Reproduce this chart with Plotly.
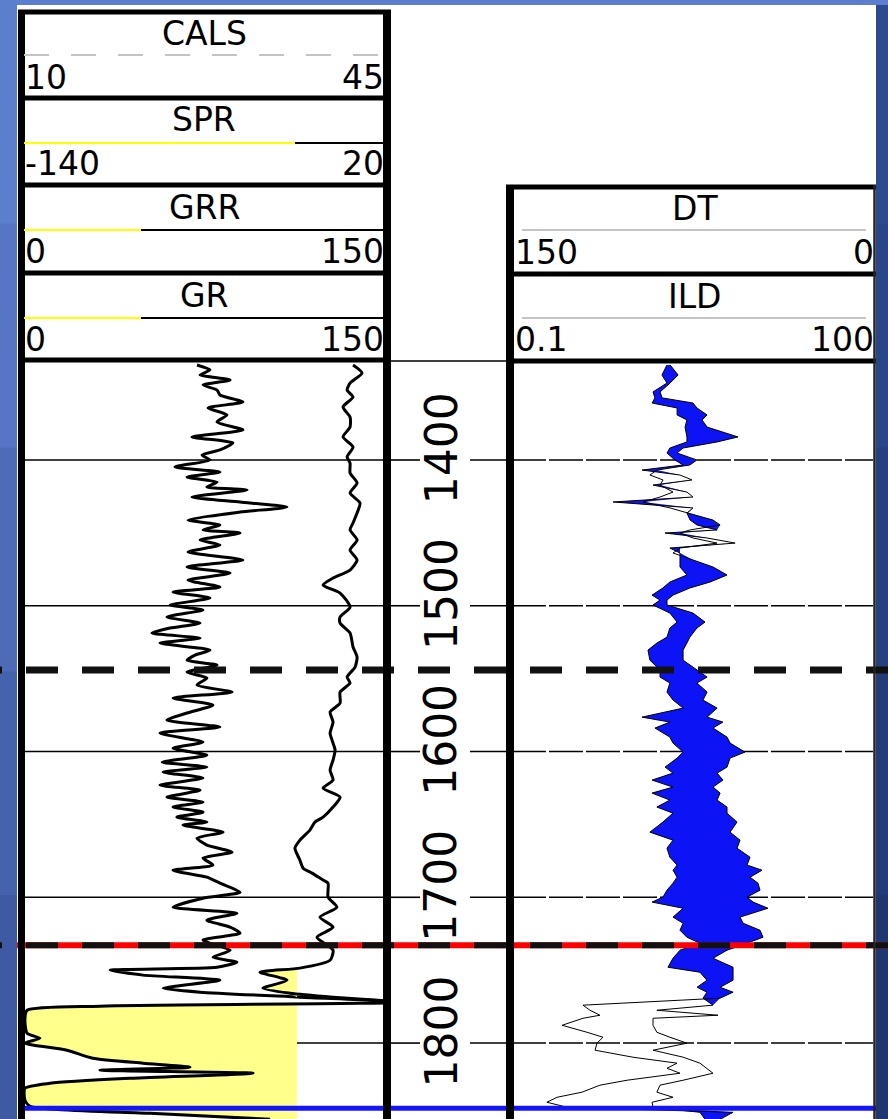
import math
import plotly.graph_objects as go

W, H = 888, 1119

# ---------------- data ----------------
GR_DEPTH = [1334.8, 1338.2, 1341.7, 1345.1, 1348.5, 1352.0, 1355.4, 1360.2, 1364.3, 1369.1,
            1373.9, 1379.4, 1384.2, 1388.3, 1393.1, 1396.6, 1400.0, 1404.8, 1408.2, 1411.7,
            1415.1, 1418.5, 1420.6, 1425.4, 1428.8, 1432.3, 1435.7, 1441.2, 1444.6, 1448.0,
            1450.1, 1454.9, 1458.3, 1463.1, 1468.6, 1473.4, 1477.6, 1482.4, 1487.2, 1490.6,
            1494.7, 1499.5, 1502.9, 1507.7, 1511.9, 1515.3, 1518.7, 1522.2, 1525.6, 1530.4,
            1533.8, 1537.3, 1540.7, 1545.5, 1549.6, 1554.4, 1559.2, 1563.3, 1568.1, 1573.6,
            1578.4, 1583.2, 1587.4, 1593.5, 1597.7, 1602.5, 1607.3, 1610.7, 1614.1, 1618.2,
            1623.0, 1626.5, 1631.3, 1634.7, 1638.1, 1641.6, 1645.0, 1648.4, 1650.5, 1655.3,
            1659.4, 1664.2, 1669.0, 1673.1, 1677.9, 1681.4, 1686.2, 1690.3, 1696.5, 1700.6,
            1706.8, 1710.9, 1715.7, 1720.5, 1724.6, 1729.4, 1736.3, 1741.1, 1744.5, 1748.0,
            1750.0, 1753.4, 1756.9, 1762.4, 1765.1, 1768.5, 1772.0, 1774.7, 1777.5, 1784.3,
            1793.3, 1796.7, 1800.1, 1804.9, 1810.4, 1813.8, 1816.6, 1818.6, 1820.7, 1824.1,
            1827.6, 1831.0, 1839.2, 1843.4, 1848.2, 1852.3]
GR = [72.3, 77.7, 73.6, 86.0, 74.8, 80.6, 81.8, 91.3, 76.9, 84.7,
      80.6, 91.3, 70.2, 87.2, 81.8, 74.4, 77.7, 63.2, 81.8, 68.2,
      80.6, 76.4, 93.0, 70.2, 90.1, 109.5, 90.1, 68.6, 81.8, 74.8,
      90.1, 73.6, 81.8, 68.6, 91.3, 68.2, 86.0, 68.6, 81.8, 62.4,
      77.7, 61.2, 74.8, 59.9, 73.6, 61.2, 53.7, 73.6, 57.0, 77.7,
      71.5, 68.2, 80.6, 68.2, 76.4, 72.3, 86.8, 62.4, 78.9, 68.2,
      59.9, 81.8, 57.0, 74.8, 62.4, 76.4, 57.9, 76.4, 58.3, 74.8,
      57.0, 73.6, 59.9, 74.8, 62.4, 74.8, 64.0, 76.4, 66.5, 83.1,
      72.3, 76.4, 86.8, 74.8, 78.9, 62.4, 76.4, 81.8, 90.1, 74.8,
      62.4, 88.8, 76.4, 86.0, 90.1, 74.8, 86.0, 78.9, 88.8, 80.6,
      36.4, 50.0, 81.8, 58.3, 73.6, 114.9, 159.1, 32.2, 2.1, 1.2,
      2.1, 7.4, 1.2, 18.6, 29.3, 50.0, 69.4, 32.2, 95.5, 45.9,
      11.6, 1.2, 1.2, 3.3, 52.9, 102.5]

SPR_DEPTH = [1334.8, 1340.3, 1347.2, 1352.0, 1356.8, 1363.6, 1370.5, 1377.4, 1384.2, 1391.1,
             1397.9, 1402.1, 1408.9, 1415.8, 1422.6, 1429.5, 1436.4, 1443.2, 1448.0, 1454.9,
             1461.8, 1468.6, 1475.5, 1481.0, 1485.8, 1491.3, 1500.9, 1507.7, 1511.9, 1518.7,
             1528.3, 1535.2, 1542.1, 1548.9, 1553.0, 1559.2, 1566.8, 1572.9, 1579.8, 1587.4,
             1594.2, 1599.0, 1605.9, 1612.8, 1619.6, 1625.1, 1631.3, 1638.1, 1645.0, 1648.4,
             1653.9, 1660.8, 1666.3, 1674.5, 1680.0, 1683.4, 1688.2, 1690.3, 1699.9, 1706.8,
             1713.6, 1720.5, 1727.4, 1736.3, 1743.2, 1748.6, 1751.4, 1756.9, 1762.4, 1765.8,
             1768.5, 1772.0]
SPR = [5.9, 9.9, 4.6, 3.3, 5.9, 1.5, 4.6, 4.6, 1.5, 5.9,
       3.3, 4.6, 4.6, 7.7, 4.6, 9.0, 7.7, 5.9, 4.6, 7.7,
       4.6, 7.7, 4.6, -2.9, -7.3, 0.2, 4.6, 0.2, 0.2, 4.6,
       5.9, 7.7, 6.8, 3.3, 4.6, 0.2, 0.2, -4.2, -2.9, -4.2,
       -2.9, -2.0, -2.9, -4.2, -2.9, -7.3, 0.2, -2.9, -7.3, -10.9,
       -13.1, -17.5, -19.7, -17.5, -16.1, -12.2, -7.3, -5.1, -5.1, -1.2,
       -8.7, -2.9, -10.0, -2.9, -4.2, -17.5, -35.1, -23.2, -33.8, -21.9,
       -2.9, 29.7]

RT_DEPTH = [1334.8, 1341.7, 1347.2, 1353.3, 1357.4, 1360.9, 1364.3, 1369.1, 1372.5, 1377.4,
            1384.2, 1387.6, 1391.8, 1395.2, 1400.0, 1403.4, 1406.9, 1410.3, 1413.7, 1417.2,
            1422.0, 1425.4, 1428.8, 1432.9, 1436.4, 1441.2, 1444.6, 1448.0, 1450.1, 1453.5,
            1457.0, 1460.4, 1463.8, 1468.6, 1473.4, 1478.9, 1483.7, 1487.8, 1492.7, 1496.1,
            1499.5, 1505.0, 1511.2, 1515.3, 1521.5, 1525.6, 1530.4, 1537.3, 1544.1, 1548.9,
            1553.0, 1559.2, 1564.7, 1570.2, 1576.4, 1579.8, 1583.9, 1590.1, 1594.2, 1600.4,
            1604.5, 1610.7, 1614.8, 1619.6, 1624.4, 1628.5, 1633.3, 1638.1, 1642.3, 1648.4,
            1655.3, 1660.8, 1666.3, 1672.5, 1677.9, 1681.4, 1686.2, 1690.3, 1695.1, 1699.9,
            1703.3, 1707.5, 1713.6, 1717.8, 1722.6, 1727.4, 1731.5, 1736.3, 1741.8, 1748.0,
            1751.4, 1756.9, 1761.7, 1765.1, 1769.2, 1774.0, 1777.5, 1780.9, 1783.0, 1787.8,
            1792.6, 1796.0, 1800.1, 1804.9, 1809.7, 1813.8, 1817.3, 1820.7, 1825.5, 1828.9,
            1833.7, 1837.2, 1840.6, 1844.0, 1847.5, 1852.3]
ILD = [2.06, 2.40, 2.06, 1.70, 1.77, 3.19, 3.44, 4.18, 3.79, 4.18,
       7.55, 5.06, 2.64, 2.35, 3.44, 3.01, 1.60, 1.40, 1.80, 1.70,
       2.18, 1.70, 1.23, 2.06, 2.90, 4.68, 5.36, 3.01, 2.49, 3.19,
       5.06, 2.49, 2.18, 3.19, 4.68, 6.12, 4.43, 3.01, 2.18, 1.94,
       1.94, 3.19, 4.02, 3.44, 3.01, 2.84, 2.64, 2.64, 3.44, 4.18,
       3.44, 4.18, 3.86, 5.06, 4.18, 5.66, 4.68, 6.12, 6.49, 8.63,
       6.49, 6.12, 5.06, 5.66, 4.68, 5.36, 5.06, 6.12, 6.12, 7.41,
       6.49, 7.85, 7.41, 9.51, 8.97, 11.97, 9.51, 11.07, 11.51, 8.97,
       10.07, 13.40, 7.85, 8.32, 11.51, 12.19, 8.97, 6.12, 4.68, 6.87,
       6.87, 6.87, 5.36, 6.87, 5.36, 0.389, 0.445, 0.538, 0.389, 0.261,
       0.420, 0.570, 0.508, 0.490, 1.01, 2.35, 1.94, 2.49, 0.904, 0.538,
       0.382, 0.237, 0.195, 0.286, 6.87, 5.36]
DT = [85.6, 87.7, 85.6, 91.4, 90.6, 91.8, 81.4, 81.4, 77.3, 78.1,
      77.3, 77.3, 84.4, 85.6, 82.3, 78.9, 96.0, 80.2, 75.2, 91.4,
      77.3, 74.8, 108.0, 74.8, 77.3, 76.0, 73.1, 64.8, 86.4, 69.0,
      57.3, 84.4, 80.2, 80.2, 80.2, 77.3, 84.4, 87.3, 91.8, 88.5,
      91.4, 84.4, 81.4, 84.4, 85.6, 89.8, 93.5, 92.7, 88.5, 88.5,
      84.4, 85.6, 83.1, 78.9, 96.0, 84.4, 90.6, 84.4, 83.1, 78.9,
      81.4, 86.4, 83.1, 91.8, 83.1, 91.8, 84.4, 89.8, 83.1, 87.3,
      92.7, 83.1, 85.6, 84.4, 81.4, 83.1, 81.4, 83.1, 85.6, 87.3,
      91.8, 78.9, 83.1, 78.9, 80.2, 77.3, 71.9, 80.2, 83.1, 85.2,
      71.9, 69.0, 73.1, 69.0, 70.6, 66.5, 89.8, 64.4, 91.4, 91.4,
      89.8, 84.4, 77.3, 91.4, 78.9, 71.9, 69.0, 66.5, 78.9, 88.5,
      89.8, 83.1, 91.8, 91.4, 71.9, 69.8]

DEPTH_TICKS = [1400, 1500, 1600, 1700, 1800]
DEPTH_LABELS = ["1400", "1500", "1600", "1700", "1800"]

TOP_BLACK_DEPTH = 1544.1
TOP_RED_DEPTH = 1732.9
BASE_BLUE_DEPTH = 1844.7

GR_RANGE = [0, 150]
SPR_RANGE = [-140, 20]
ILD_RANGE = [0.1, 100]
DT_RANGE = [150, 0]
GR_CUTOFF = 113.6
SPR_CUTOFF = -18.8
GR_FILL_FROM = 1772.0
SPR_FILL_FROM, SPR_FILL_TO = 1748.0, 1772.0

LEFT_HEADERS = [("CALS", "10", "45"), ("SPR", "-140", "20"),
                ("GRR", "0", "150"), ("GR", "0", "150")]
RIGHT_HEADERS = [("DT", "150", "0"), ("ILD", "0.1", "100")]

# ---------------- geometry / style ----------------
LT_X0, LT_X1 = 22, 385
RT_X0, RT_X1 = 512, 873
BODY_TOP = 360
Y_RANGE = [1852.1, 1331.4]
YELLOW = "#ffff8c"
BLUE_FILL = "#0c14f5"
FONT = "DejaVu Sans"
HEADER_SIZE = 33


def px(x):
    return x / W


def py(y):
    return 1 - y / H


fig = go.Figure()

# --- yellow shale/sand shading (left track) ---
spr_sel = [i for i, d in enumerate(SPR_DEPTH) if SPR_FILL_FROM <= d <= SPR_FILL_TO]
sd = [SPR_DEPTH[i] for i in spr_sel]
sv = [SPR[i] for i in spr_sel]
fig.add_trace(go.Scatter(x=[SPR_CUTOFF] * len(sd), y=sd, xaxis="x2", yaxis="y",
                         mode="lines", line=dict(width=0, color=YELLOW), hoverinfo="skip"))
fig.add_trace(go.Scatter(x=[min(v, SPR_CUTOFF) for v in sv], y=sd, xaxis="x2", yaxis="y",
                         mode="lines", line=dict(width=0, color=YELLOW), fill="tonextx",
                         fillcolor=YELLOW, hoverinfo="skip"))

gr_sel = [i for i, d in enumerate(GR_DEPTH) if d >= GR_FILL_FROM]
gd = [GR_DEPTH[i] for i in gr_sel]
gv = [GR[i] for i in gr_sel]
fig.add_trace(go.Scatter(x=[GR_CUTOFF] * len(gd), y=gd, xaxis="x", yaxis="y",
                         mode="lines", line=dict(width=0, color=YELLOW), hoverinfo="skip"))
fig.add_trace(go.Scatter(x=[min(v, GR_CUTOFF) for v in gv], y=gd, xaxis="x", yaxis="y",
                         mode="lines", line=dict(width=0, color=YELLOW), fill="tonextx",
                         fillcolor=YELLOW, hoverinfo="skip"))

# --- curves left track ---
fig.add_trace(go.Scatter(x=GR, y=GR_DEPTH, xaxis="x", yaxis="y", mode="lines", name="GR",
                         line=dict(color="black", width=3, shape="spline", smoothing=0.6)))
fig.add_trace(go.Scatter(x=SPR, y=SPR_DEPTH, xaxis="x2", yaxis="y", mode="lines", name="SPR",
                         line=dict(color="black", width=3, shape="spline", smoothing=0.6)))

# --- crossover shading (right track): DT placed on the ILD log scale ---
lg0, lg1 = math.log10(ILD_RANGE[0]), math.log10(ILD_RANGE[1])


def dt_on_ild_scale(v):
    frac = (DT_RANGE[0] - v) / (DT_RANGE[0] - DT_RANGE[1])
    return 10 ** (lg0 + frac * (lg1 - lg0))


dt_equiv = [dt_on_ild_scale(v) for v in DT]
fig.add_trace(go.Scatter(x=dt_equiv, y=RT_DEPTH, xaxis="x3", yaxis="y", mode="lines",
                         line=dict(width=0, color=BLUE_FILL), hoverinfo="skip"))
fig.add_trace(go.Scatter(x=[max(a, b) for a, b in zip(ILD, dt_equiv)], y=RT_DEPTH,
                         xaxis="x3", yaxis="y", mode="lines",
                         line=dict(width=0, color=BLUE_FILL), fill="tonextx",
                         fillcolor=BLUE_FILL, hoverinfo="skip"))
fig.add_trace(go.Scatter(x=ILD, y=RT_DEPTH, xaxis="x3", yaxis="y", mode="lines", name="ILD",
                         line=dict(color="black", width=1)))
fig.add_trace(go.Scatter(x=DT, y=RT_DEPTH, xaxis="x4", yaxis="y", mode="lines", name="DT",
                         line=dict(color="black", width=1)))

# ---------------- shapes ----------------
shapes = []


def pline(x0, y0, x1, y1, color="black", width=1, dash=None, layer="above"):
    ln = dict(color=color, width=width)
    if dash:
        ln["dash"] = dash
    shapes.append(dict(type="line", xref="paper", yref="paper", x0=px(x0), x1=px(x1),
                       y0=py(y0), y1=py(y1), line=ln, layer=layer))


def dline(depth, x0, x1, color="black", width=1, dash=None, layer="above"):
    ln = dict(color=color, width=width)
    if dash:
        ln["dash"] = dash
    shapes.append(dict(type="line", xref="paper", yref="y", x0=px(x0), x1=px(x1),
                       y0=depth, y1=depth, line=ln, layer=layer))


def prect(x0, y0, x1, y1, color, layer="below"):
    shapes.append(dict(type="rect", xref="paper", yref="paper", x0=px(x0), x1=px(x1),
                       y0=py(y1), y1=py(y0), fillcolor=color, line=dict(width=0),
                       layer=layer))


# background strips (page frame)
left_bands = ["#5b7fcc", "#5476c4", "#4c6cb8", "#4463ad", "#3d5aa2"]
right_bands = ["#2d4a8f", "#2a4588", "#264080", "#233b78", "#203670"]
n = len(left_bands)
for i in range(n):
    prect(0, H * i / n, 17, H * (i + 1) / n + 1, left_bands[i])
    prect(876, H * i / n, W, H * (i + 1) / n + 1, right_bands[i])
prect(0, 0, W, 5, "#5b7fcc")
prect(17, 5, 876, H, "white")

# depth grid lines
for d in DEPTH_TICKS:
    dline(d, LT_X0, LT_X1, width=1.6, layer="below")
    dline(d, 390, 420, width=1.6, layer="below")
    dline(d, 470, 508, width=1.6, layer="below")
    dline(d, RT_X0, RT_X1, width=1.6, dash="34px,3px", layer="below")
pline(390, 361, 507, 361, width=1.5)

# marker lines across the log
dline(TOP_BLACK_DEPTH, -30, W + 60, color="#111111", width=7, dash="32px,24px")
dline(TOP_RED_DEPTH, 17, W, color="#ff0000", width=6)
dline(TOP_RED_DEPTH, -30, W + 60, color="#111111", width=6, dash="32px,24px")
dline(BASE_BLUE_DEPTH, 18, 876, color="#1414ff", width=5)

# left header box and track borders
for yy in [12, 98, 185, 273, 360]:
    pline(18, yy, 391, yy, width=5)
pline(21.5, 10, 21.5, H, width=7)
pline(387, 10, 387, H, width=8)
# header curve-legend lines
pline(24, 55, 383, 55, color="#c4c4c4", width=2, dash="25px,22px")
pline(24, 143, 295, 143, color="#ffff00", width=2)
pline(295, 143, 383, 143, color="black", width=2)
for yy in [230, 318]:
    pline(24, yy, 141, yy, color="#ffff00", width=2)
    pline(141, yy, 383, yy, color="black", width=2)

# right header box and track borders
for yy in [187, 274, 361]:
    pline(506, yy, 876, yy, width=5)
pline(510, 185, 510, H, width=8)
pline(874.5, 185, 874.5, H, color="#222222", width=2.5)
for yy in [230, 318]:
    pline(522, yy, 866, yy, color="#8a8a8a", width=1)

# ---------------- annotations ----------------
ann = []


def text(x, y, s, anchor="center", size=HEADER_SIZE, angle=0, yref="paper"):
    ann.append(dict(x=px(x), y=(py(y) if yref == "paper" else y), xref="paper", yref=yref,
                    text=s, showarrow=False, xanchor=anchor, yanchor="middle",
                    textangle=angle, font=dict(family=FONT, size=size, color="black")))


left_title_y = [33, 120, 207, 295]
left_label_y = [77, 164, 251, 339]
for (name, lo, hi), ty, ly in zip(LEFT_HEADERS, left_title_y, left_label_y):
    text(204, ty, name)
    text(23, ly, lo, anchor="left")
    text(386, ly, hi, anchor="right")

right_title_y = [209, 296]
right_label_y = [252, 339]
for (name, lo, hi), ty, ly in zip(RIGHT_HEADERS, right_title_y, right_label_y):
    text(695, ty, name)
    text(513, ly, lo, anchor="left")
    text(876, ly, hi, anchor="right")

for d, lab in zip(DEPTH_TICKS, DEPTH_LABELS):
    text(441, d - 8, lab, size=44, angle=-90, yref="y")

# ---------------- layout ----------------
ax_common = dict(visible=False, showgrid=False, zeroline=False, fixedrange=True)
fig.update_layout(
    width=W, height=H, margin=dict(l=0, r=0, t=0, b=0, pad=0),
    paper_bgcolor="#4c6cb8", plot_bgcolor="rgba(0,0,0,0)", showlegend=False,
    xaxis=dict(domain=[px(LT_X0), px(LT_X1)], range=GR_RANGE, anchor="y", **ax_common),
    xaxis2=dict(domain=[px(LT_X0), px(LT_X1)], range=SPR_RANGE, overlaying="x",
                anchor="y", **ax_common),
    xaxis3=dict(domain=[px(RT_X0), px(RT_X1)], type="log",
                range=[math.log10(ILD_RANGE[0]), math.log10(ILD_RANGE[1])],
                anchor="y", **ax_common),
    xaxis4=dict(domain=[px(RT_X0), px(RT_X1)], range=DT_RANGE, overlaying="x3",
                anchor="y", **ax_common),
    yaxis=dict(domain=[0, py(BODY_TOP)], range=Y_RANGE, anchor="x", **ax_common),
    shapes=shapes, annotations=ann,
)

fig.write_html("out.html", config={"displayModeBar": False})
